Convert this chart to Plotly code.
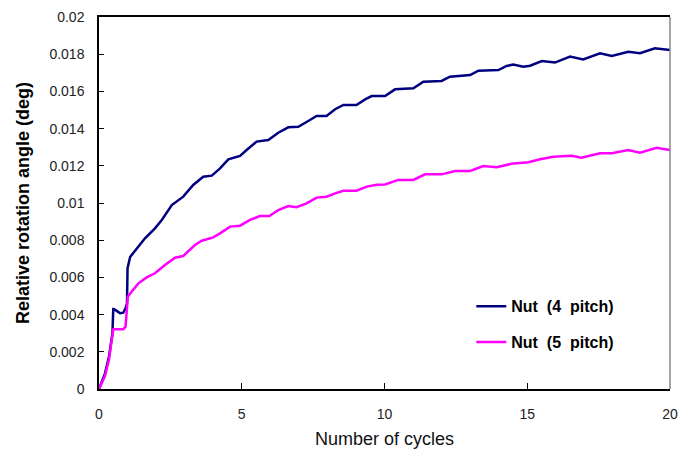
import plotly.graph_objects as go

# Measured rotation angle versus loading cycles for two nut lengths
cycles_4p = [0, 0.08, 0.21, 0.35, 0.47, 0.50, 0.52, 0.62, 0.74, 0.85, 0.93, 0.98, 1.0, 1.09, 1.32,
             1.61, 1.96, 2.2, 2.55, 2.95, 3.3, 3.65, 3.95, 4.24, 4.53, 4.94, 5.17, 5.52, 5.93, 6.28,
             6.63, 6.98, 7.33, 7.62, 7.97, 8.27, 8.56, 9.02, 9.32, 9.55, 10.02, 10.37, 11.01, 11.36,
             12.0, 12.29, 13.0, 13.29, 13.99, 14.28, 14.51, 14.86, 15.1, 15.51, 15.97, 16.5, 16.96,
             17.55, 17.96, 18.54, 18.95, 19.47, 20.0]
angle_4p = [0, 0.0003, 0.00084, 0.00174, 0.0030, 0.0043, 0.0043, 0.0042, 0.00407, 0.0041, 0.00434,
            0.0046, 0.0065, 0.0071, 0.00756, 0.0081, 0.00864, 0.00909, 0.00989, 0.01034, 0.01097,
            0.01141, 0.01147, 0.01186, 0.01235, 0.01253, 0.01285, 0.0133, 0.01339, 0.01378, 0.01407,
            0.0141, 0.01441, 0.01468, 0.01468, 0.01504, 0.01527, 0.01527, 0.01557, 0.01575, 0.01575,
            0.01611, 0.01617, 0.01652, 0.01656, 0.01679, 0.01688, 0.01711, 0.01715, 0.01737, 0.01745,
            0.01733, 0.01738, 0.01763, 0.01755, 0.01787, 0.01772, 0.01805, 0.0179, 0.01813, 0.01805,
            0.01832, 0.01823]

cycles_5p = [0, 0.08, 0.21, 0.35, 0.47, 0.50, 0.55, 0.85, 0.93, 0.99, 1.01, 1.14, 1.38, 1.67, 1.96,
             2.31, 2.66, 2.95, 3.36, 3.6, 4.0, 4.24, 4.59, 4.94, 5.29, 5.64, 5.97, 6.28, 6.63, 6.92,
             7.27, 7.62, 7.97, 8.27, 8.56, 9.02, 9.38, 9.73, 10.02, 10.48, 11.01, 11.42, 12.0, 12.47,
             13.0, 13.46, 13.93, 14.51, 15.04, 15.45, 15.91, 16.56, 16.9, 17.55, 17.96, 18.54, 18.95,
             19.53, 20.0]
angle_5p = [0, 0.00025, 0.0007, 0.0016, 0.0028, 0.0032, 0.00321, 0.00321, 0.00335, 0.0045, 0.00496,
            0.00523, 0.00568, 0.006, 0.00622, 0.00667, 0.00706, 0.00715, 0.00774, 0.00797, 0.00815,
            0.00837, 0.00873, 0.00878, 0.00909, 0.0093, 0.0093, 0.00962, 0.00984, 0.00977, 0.00998,
            0.01029, 0.01034, 0.01052, 0.01066, 0.01066, 0.01088, 0.01098, 0.011, 0.01124, 0.01124,
            0.01154, 0.01154, 0.01172, 0.01172, 0.01199, 0.01192, 0.01213, 0.01219, 0.01235, 0.01249,
            0.01254, 0.01244, 0.01267, 0.01267, 0.01285, 0.0127, 0.01297, 0.01285]

x_ticks = [0, 5, 10, 15, 20]
y_ticks = [0, 0.002, 0.004, 0.006, 0.008, 0.01, 0.012, 0.014, 0.016, 0.018, 0.02]
y_tick_text = ["0", "0.002", "0.004", "0.006", "0.008", "0.01", "0.012", "0.014", "0.016", "0.018", "0.02"]

fig = go.Figure()
fig.add_trace(go.Scatter(x=cycles_4p, y=angle_4p, mode="lines", name="Nut  (4  pitch)",
                         legendgroup="a", line=dict(color="#000080", width=2.5)))
fig.add_trace(go.Scatter(x=cycles_5p, y=angle_5p, mode="lines", name="Nut  (5  pitch)",
                         legendgroup="b", line=dict(color="#FF00FF", width=2.5)))

fig.update_layout(
    width=680, height=457,
    margin=dict(l=99, r=10, t=17, b=68),
    plot_bgcolor="white", paper_bgcolor="white",
    font=dict(family="Arial, Liberation Sans, sans-serif", color="#222222"),
    showlegend=True,
    legend=dict(x=0.652, y=0.268, xanchor="left", yanchor="top",
                bgcolor="rgba(0,0,0,0)", tracegroupgap=12,
                font=dict(size=16, color="black", family="Arial, Liberation Sans, sans-serif",
                          weight="bold")),
    xaxis=dict(range=[0, 20], tickvals=x_ticks, ticks="inside", ticklen=6, tickcolor="black",
               showline=True, linecolor="black", linewidth=1.5, mirror=True, automargin=False,
               showgrid=False, zeroline=False, ticklabelstandoff=11,
               tickfont=dict(size=14, color="#222222"),
               title=dict(text="Number of cycles", standoff=12,
                          font=dict(size=18, color="#111111"))),
    yaxis=dict(range=[0, 0.02], tickvals=y_ticks, ticktext=y_tick_text, ticks="inside", ticklen=5,
               tickcolor="black", showline=True, linecolor="black", linewidth=1.5, automargin=False,
               showgrid=False, zeroline=False, ticklabelstandoff=10,
               tickfont=dict(size=14, color="#222222"),
               title=dict(text="Relative rotation angle (deg)", standoff=15,
                          font=dict(size=18, color="black", weight="bold"))),
)

# light grey right-hand frame edge
fig.add_shape(type="line", xref="paper", yref="paper", x0=1, x1=1, y0=0, y1=1,
              line=dict(color="#888888", width=1.5))

fig.write_html("out.html")
